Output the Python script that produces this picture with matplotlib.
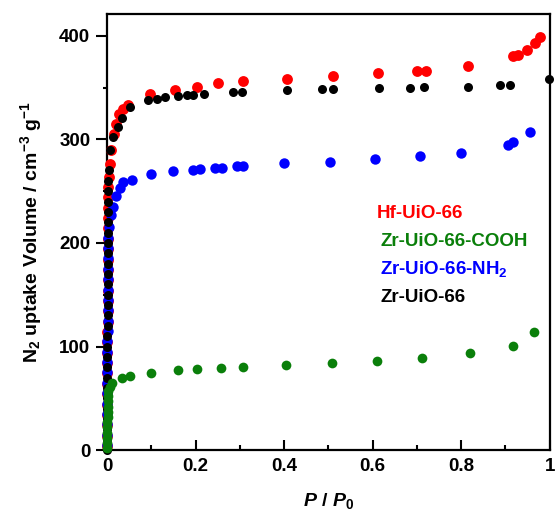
import matplotlib
matplotlib.use("Agg")
import matplotlib.pyplot as plt
from matplotlib.ticker import MultipleLocator

plt.rcParams['font.family'] = ['Liberation Sans', 'DejaVu Sans']
plt.rcParams['font.weight'] = 'bold'
plt.rcParams['axes.labelweight'] = 'bold'
plt.rcParams['mathtext.fontset'] = 'custom'
plt.rcParams['mathtext.rm'] = 'Liberation Sans:bold'
plt.rcParams['mathtext.bf'] = 'Liberation Sans:bold'
plt.rcParams['mathtext.it'] = 'Liberation Sans:bold:italic'
plt.rcParams['mathtext.sf'] = 'Liberation Sans'
plt.rcParams['mathtext.default'] = 'rm'

# N2 adsorption isotherms (relative pressure, uptake in cm3/g)
P_hf = [0.0001, 0.0002, 0.0003, 0.0004, 0.0005, 0.0006, 0.0007, 0.0008, 0.0009, 0.001,
        0.0011, 0.0012, 0.0013, 0.0014, 0.0015, 0.0016, 0.0017, 0.0018, 0.0019, 0.002,
        0.0022, 0.0024, 0.0026, 0.0028, 0.003, 0.0034, 0.004, 0.006, 0.01, 0.015,
        0.02, 0.028, 0.037, 0.047, 0.097, 0.154, 0.203, 0.25, 0.307, 0.406,
        0.51, 0.612, 0.70, 0.72, 0.815, 0.917, 0.928, 0.948, 0.966, 0.977]
V_hf = [4, 14, 24, 34, 44, 54, 64, 74, 84, 94,
        104, 114, 124, 134, 144, 154, 164, 174, 184, 194,
        204, 214, 224, 234, 244, 254, 264, 276, 290, 305,
        315, 324, 329, 333, 344, 348, 351, 354, 356, 358,
        361, 364, 366, 366, 371, 380, 381, 386, 393, 399]

P_cooh = [0.0002, 0.0004, 0.0006, 0.0008, 0.001, 0.0012, 0.0014, 0.0016, 0.0018, 0.002,
          0.0025, 0.003, 0.006, 0.011, 0.034, 0.052, 0.10, 0.16, 0.203, 0.257,
          0.307, 0.404, 0.508, 0.609, 0.711, 0.82, 0.917, 0.964]
V_cooh = [2, 7, 12, 17, 22, 27, 32, 37, 42, 47,
          52, 57, 61, 65, 70, 72, 74, 77, 78, 79,
          80, 82, 84, 86, 89, 93.5, 101, 114]

P_nh2 = [0.0002, 0.0003, 0.0004, 0.0005, 0.0006, 0.0007, 0.0008, 0.0009, 0.001, 0.0011,
         0.0012, 0.0013, 0.0014, 0.0015, 0.0016, 0.0017, 0.0018, 0.002, 0.0022, 0.0025,
         0.003, 0.004, 0.009, 0.013, 0.021, 0.029, 0.036, 0.056, 0.1, 0.15,
         0.195, 0.21, 0.245, 0.26, 0.293, 0.307, 0.40, 0.503, 0.605, 0.706,
         0.80, 0.905, 0.917, 0.955]
V_nh2 = [5, 15, 25, 35, 45, 55, 65, 75, 85, 95,
         105, 115, 125, 135, 145, 155, 165, 175, 185, 195,
         205, 215, 227, 235, 245, 253, 259, 261, 267, 269,
         270, 271, 272, 272, 274, 274, 277, 278, 281, 284,
         287, 295, 297, 307]

P_zr = [0.0001, 0.0002, 0.0003, 0.0004, 0.0005, 0.0006, 0.0007, 0.0008, 0.0009, 0.001,
        0.0011, 0.0012, 0.0013, 0.0014, 0.0015, 0.0016, 0.0017, 0.0018, 0.0019, 0.002,
        0.0021, 0.0022, 0.0024, 0.0026, 0.0028, 0.003, 0.0034, 0.004, 0.007, 0.013,
        0.024, 0.034, 0.052, 0.093, 0.113, 0.131, 0.16, 0.18, 0.194, 0.22,
        0.284, 0.305, 0.406, 0.485, 0.51, 0.614, 0.684, 0.716, 0.815, 0.887,
        0.91, 0.998]
V_zr = [0, 10, 20, 30, 40, 50, 60, 70, 80, 90,
        100, 110, 120, 130, 140, 150, 160, 170, 180, 190,
        200, 210, 220, 230, 240, 250, 260, 270, 290, 302,
        312, 321, 331, 338, 339, 341, 342, 343, 343, 344,
        346, 346, 348, 349, 349, 350, 350, 351, 351, 352,
        352, 358]

labels = ['Hf-UiO-66', 'Zr-UiO-66-COOH', 'Zr-UiO-66-NH$_2$', 'Zr-UiO-66']
colors = ['#ff0000', '#0a7f0a', '#0000ff', '#000000']

fig = plt.figure(figsize=(5.57, 5.18), dpi=100)
ax = fig.add_axes([0.192, 0.131, 0.795, 0.842])

ax.plot(P_hf, V_hf, 'o', color=colors[0], ms=7.8, mec='none', clip_on=False, zorder=3)
ax.plot(P_nh2, V_nh2, 'o', color=colors[2], ms=7.5, mec='none', clip_on=False, zorder=4)
ax.plot(P_zr, V_zr, 'o', color=colors[3], ms=6.5, mec='none', clip_on=False, zorder=5)
ax.plot(P_cooh, V_cooh, 'o', color=colors[1], ms=7, mec='none', clip_on=False, zorder=6)

ax.set_xlim(0, 1)
ax.set_ylim(0, 421)

ax.set_xticks([0, 0.2, 0.4, 0.6, 0.8, 1.0])
ax.set_xticklabels(['0', '0.2', '0.4', '0.6', '0.8', '1'])
ax.xaxis.set_minor_locator(MultipleLocator(0.1))
ax.yaxis.set_major_locator(MultipleLocator(100))
ax.yaxis.set_minor_locator(MultipleLocator(50))

for s in ax.spines.values():
    s.set_linewidth(1.6)

ax.tick_params(axis='x', which='major', direction='in', length=7, width=1.5,
               labelsize=13.5, pad=6)
ax.tick_params(axis='x', which='minor', direction='in', length=3.5, width=1.5)
ax.tick_params(axis='y', which='major', direction='out', length=8, width=1.5,
               labelsize=13.5, pad=4)
ax.tick_params(axis='y', which='minor', direction='out', length=3, width=1.5)

ax.set_ylabel('N$_2$ uptake Volume / cm$^{-3}$ g$^{-1}$', fontsize=14, labelpad=11)
ax.set_xlabel('$\\mathit{P}$ / $\\mathit{P}_{\\mathsf{0}}$', fontsize=14, labelpad=11)

y_pos = [0.543, 0.479, 0.415, 0.351]
x_pos = [0.609, 0.617, 0.617, 0.617]
for lab, c, xx, yy in zip(labels, colors, x_pos, y_pos):
    ax.text(xx, yy, lab, color=c, fontsize=13.5, fontweight='bold',
            transform=ax.transAxes, va='center', ha='left')

fig.savefig('out.png', dpi=100)
